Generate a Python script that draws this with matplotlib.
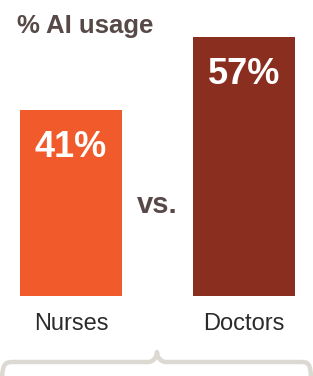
import matplotlib
matplotlib.use('Agg')
import matplotlib.pyplot as plt
from matplotlib.path import Path
from matplotlib.patches import PathPatch

categories = ['Nurses', 'Doctors']
usage = [41, 57]
bar_colors = ['#F15A2B', '#8A2F1F']

title = '% AI usage'
title_color = '#574947'

plt.rcParams['font.family'] = ['Liberation Sans', 'DejaVu Sans']

fig = plt.figure(figsize=(3.13, 3.76), dpi=100)
ax = fig.add_axes([0, 80 / 376, 1, 295 / 376])

x = list(range(len(categories)))
ax.bar(x, usage, width=0.59, color=bar_colors)
ax.set_xlim(-0.41, 1.399)
ax.set_ylim(0, 65)
ax.axis('off')

for i, v in enumerate(usage):
    ax.text(i, v - 10.3, f'{v}%', ha='center', va='baseline',
            color='white', fontsize=26, fontweight='bold')
    ax.text(i, -7.5, categories[i], ha='center', va='baseline',
            color='#2b2b2b', fontsize=17, clip_on=False)

ax.text(0.5, 18.3, 'vs.', ha='center', va='baseline',
        color=title_color, fontsize=21, fontweight='bold')

fig.text(17 / 313, 1 - 33 / 376, title, ha='left', va='baseline',
         color=title_color, fontsize=18.5, fontweight='bold')

# curly brace under the labels (figure pixel coords)
W, H = 313, 376
pts = [(2, -6), (2, 14), (6, 14), (14, 14),
       (148, 14), (154, 14), (157, 20), (157, 24),
       (157, 20), (160, 14), (166, 14),
       (300, 14), (308, 14), (311, 14), (311, -6)]
codes = [Path.MOVETO, Path.CURVE4, Path.CURVE4, Path.CURVE4,
         Path.LINETO, Path.CURVE4, Path.CURVE4, Path.CURVE4,
         Path.CURVE4, Path.CURVE4, Path.CURVE4,
         Path.LINETO, Path.CURVE4, Path.CURVE4, Path.CURVE4]
verts = [(px / W, py / H) for px, py in pts]
brace = PathPatch(Path(verts, codes), transform=fig.transFigure,
                  facecolor='none', edgecolor='#dcd9d2', linewidth=3.2,
                  capstyle='butt', joinstyle='round')
fig.patches.append(brace)

fig.savefig('out.png', dpi=100, facecolor='white')
